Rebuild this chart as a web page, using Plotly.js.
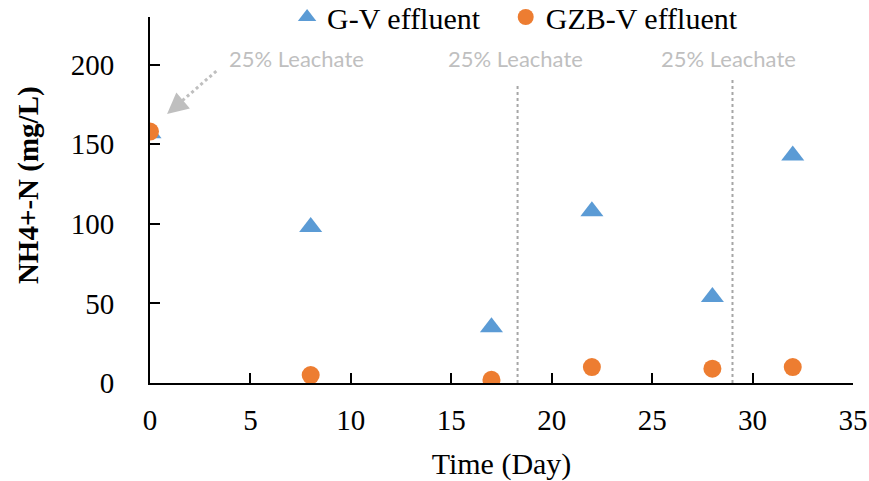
<!DOCTYPE html>
<html>
<head>
<meta charset="utf-8">
<script src="https://cdn.plot.ly/plotly-3.0.1.min.js"></script>
<style>html,body{margin:0;padding:0;background:#fff;}#chart{width:869px;height:481px;}</style>
</head>
<body>
<div id="chart"></div>
<script>
const days = [0, 8, 17, 22, 28, 32];
const gvEffluent = [157, 98, 35, 108, 54, 143];
const gzbvEffluent = [158, 5, 2, 10, 9, 10];
const leachateDays = [18.3, 29.0];
const xTicks = [0, 5, 10, 15, 20, 25, 30, 35];
const yTicks = [0, 50, 100, 150, 200];
const seriesNames = ['G-V effluent', 'GZB-V effluent'];
const noteText = '25% Leachate';
const yTitle = 'NH4+-N (mg/L)';
const xTitle = 'Time (Day)';

const serif = 'Liberation Serif, Times New Roman, serif';
const gray = '#BFBFBF';

const traces = [
  {x: days, y: gvEffluent, name: seriesNames[0], mode: 'markers', type: 'scatter', legend: 'legend',
   marker: {symbol: 'triangle-up', size: 20, color: '#5B9BD5'}},
  {x: days, y: gzbvEffluent, name: seriesNames[1], mode: 'markers', type: 'scatter', legend: 'legend2',
   marker: {symbol: 'circle', size: 18, color: '#ED7D31'}}
];

const shapes = leachateDays.map((d, i) => ({
  type: 'line', xref: 'x', yref: 'y', x0: d, x1: d, y0: 0, y1: i === 0 ? 188 : 191,
  line: {color: '#A6A6A6', width: 2, dash: 'dot'}
}));
shapes.push({type: 'line', xref: 'x', yref: 'y', x0: 3.3, y0: 196, x1: 1.3, y1: 174,
  line: {color: gray, width: 3, dash: 'dot'}});

const notePositions = [7.3, 18.2, 28.8];
const annotations = notePositions.map(x => ({
  x: x, y: 204, xref: 'x', yref: 'y', text: noteText, showarrow: false,
  font: {family: 'Lato, sans-serif', size: 22, color: gray}
}));
annotations.push({x: 0.85, y: 169, ax: 1.6, ay: 177, axref: 'x', ayref: 'y', xref: 'x', yref: 'y',
  text: '', showarrow: true, arrowhead: 2, arrowsize: 1.4, arrowwidth: 3, arrowcolor: gray});
annotations.push({x: -0.172, y: 0.541, xref: 'paper', yref: 'paper', text: '<b>' + yTitle + '</b>',
  textangle: -90, showarrow: false, xanchor: 'center', yanchor: 'middle',
  font: {family: serif, size: 29, color: '#000'}});

const legendBase = {orientation: 'h', xanchor: 'left', y: 1.0, yanchor: 'middle',
  font: {family: serif, size: 30, color: '#000'}, itemwidth: 30, bgcolor: 'rgba(0,0,0,0)'};

const layout = {
  width: 869, height: 481,
  margin: {l: 150, r: 16, t: 17, b: 98, autoexpand: false},
  paper_bgcolor: '#fff', plot_bgcolor: '#fff',
  showlegend: true,
  legend: Object.assign({}, legendBase, {x: 0.195}),
  legend2: Object.assign({}, legendBase, {x: 0.506}),
  xaxis: {range: [0, 35], tickvals: xTicks, ticktext: xTicks.map(String),
    showgrid: false, zeroline: false, showline: true, linecolor: '#000', linewidth: 2,
    ticks: 'inside', ticklen: 10, tickwidth: 2, tickcolor: '#000', ticklabelstandoff: 10,
    tickfont: {family: serif, size: 29, color: '#000'},
    title: {text: xTitle, font: {family: serif, size: 30, color: '#000'}, standoff: 18}},
  yaxis: {range: [0, 230], tickvals: yTicks, ticktext: yTicks.map(String),
    showgrid: false, zeroline: false, showline: true, linecolor: '#000', linewidth: 2,
    ticks: 'inside', ticklen: 10, tickwidth: 2, tickcolor: '#000', ticklabelstandoff: 28,
    tickfont: {family: serif, size: 29, color: '#000'}},
  shapes: shapes,
  annotations: annotations
};

Plotly.newPlot('chart', traces, layout, {displayModeBar: false, staticPlot: true});
</script>
</body>
</html>
